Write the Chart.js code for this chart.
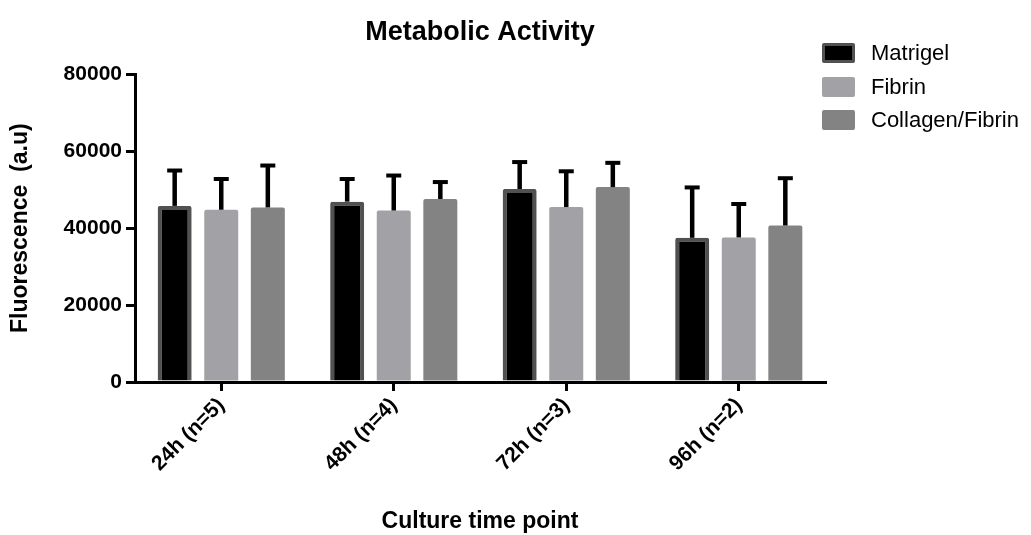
<!DOCTYPE html>
<html>
<head>
<meta charset="utf-8">
<title>Metabolic Activity</title>
<script src="https://cdn.jsdelivr.net/npm/chart.js@4.4.1/dist/chart.umd.min.js"></script>
<style>
  html, body { margin: 0; padding: 0; background: #fff; }
  .wrap { position: relative; width: 1031px; height: 535px; }
  .legend { position: absolute; left: 822px; top: 43px; font: 22px Arial, "Liberation Sans", sans-serif; color: #000; }
  .legend .row { display: flex; align-items: center; height: 20px; margin-bottom: 13.5px; }
  .legend .box { width: 33px; height: 20px; box-sizing: border-box; border-radius: 2px; margin-right: 16px; }
</style>
</head>
<body>
<div class="wrap">
  <canvas id="chartMeta"></canvas>
  <div class="legend" id="legend"></div>
</div>
<script>
// ── Données ─────────────────────────────────────────
const categories = ['24h (n=5)', '48h (n=4)', '72h (n=3)', '96h (n=2)'];
const seriesNames = ['Matrigel', 'Fibrin', 'Collagen/Fibrin'];
const matrigel   = [45800, 46900, 50200, 37500];
const matrigelSd = [9200, 5900, 7000, 13100];
const fibrin     = [44800, 44600, 45500, 37600];
const fibrinSd   = [8000, 9100, 9300, 8700];
const collagen   = [45400, 47600, 50700, 40700];
const collagenSd = [10900, 4400, 6300, 12300];
const yTicks = [0, 20000, 40000, 60000, 80000];

const FONT = 'Arial, "Liberation Sans", sans-serif';
Chart.defaults.font.family = FONT;
Chart.defaults.color = '#000';

// ── Barres d'erreur (vers le haut seulement) ───────
const errorBars = {
  id: 'errorBars',
  afterDatasetsDraw(chart) {
    const ctx = chart.ctx;
    const y = chart.scales.y;
    chart.data.datasets.forEach((ds, i) => {
      const meta = chart.getDatasetMeta(i);
      meta.data.forEach((bar, j) => {
        const top = y.getPixelForValue(ds.data[j] + ds.sd[j]);
        ctx.save();
        ctx.strokeStyle = '#000';
        ctx.lineWidth = 4.5;
        ctx.beginPath();
        ctx.moveTo(bar.x, bar.y);
        ctx.lineTo(bar.x, top);
        ctx.stroke();
        ctx.lineWidth = 4;
        ctx.beginPath();
        ctx.moveTo(bar.x - 7.5, top);
        ctx.lineTo(bar.x + 7.5, top);
        ctx.stroke();
        ctx.restore();
      });
    });
  }
};

const datasets = [
  { label: seriesNames[0], data: matrigel, sd: matrigelSd, backgroundColor: '#000', borderColor: '#515151', borderWidth: 4 },
  { label: seriesNames[1], data: fibrin, sd: fibrinSd, backgroundColor: '#a2a2a6', borderColor: '#a2a2a6', borderWidth: 0 },
  { label: seriesNames[2], data: collagen, sd: collagenSd, backgroundColor: '#838383', borderColor: '#838383', borderWidth: 0 }
];
datasets.forEach(d => {
  d.barPercentage = 0.73;
  d.categoryPercentage = 0.81;
  d.borderRadius = 2;
  d.borderSkipped = 'start';
});

new Chart(document.getElementById('chartMeta'), {
  type: 'bar',
  data: { labels: categories, datasets },
  options: {
    responsive: true,
    maintainAspectRatio: false,
    animation: false,
    layout: { padding: { left: 0, right: 206, top: 0, bottom: 0 } },
    plugins: {
      legend: { display: false },
      tooltip: { enabled: false },
      title: {
        display: true,
        text: 'Metabolic Activity',
        fullSize: false,
        color: '#000',
        font: { size: 27, weight: 'bold' },
        padding: { top: 16, bottom: 26 }
      }
    },
    scales: {
      x: {
        afterFit: s => { s.height = 153; },
        grid: { drawOnChartArea: false, offset: false, color: '#000', lineWidth: 3, tickLength: 9 },
        border: { color: '#000', width: 3 },
        ticks: { color: '#000', font: { size: 21, weight: 'bold' }, minRotation: 45, maxRotation: 45, padding: 2 },
        title: {
          display: true, text: 'Culture time point', color: '#000',
          font: { size: 23, weight: 'bold' }, padding: { top: 0, bottom: 0 }
        }
      },
      y: {
        min: 0, max: 80000,
        afterFit: s => { s.width = 135; },
        afterBuildTicks: s => { s.ticks = yTicks.map(v => ({ value: v })); },
        grid: { drawOnChartArea: false, color: '#000', lineWidth: 3, tickLength: 9 },
        border: { color: '#000', width: 3 },
        ticks: { color: '#000', font: { size: 21, weight: 'bold' }, padding: 4, callback: v => String(v) },
        title: {
          display: true, text: 'Fluorescence  (a.u)', color: '#000',
          font: { size: 23, weight: 'bold' }, padding: { top: 7, bottom: 0 }
        }
      }
    }
  },
  plugins: [errorBars]
});

// ── Légende ─────────────────────────────────────────
const legend = document.getElementById('legend');
datasets.forEach(d => {
  const row = document.createElement('div');
  row.className = 'row';
  const box = document.createElement('span');
  box.className = 'box';
  box.style.background = d.backgroundColor;
  if (d.borderWidth) box.style.border = '3px solid ' + d.borderColor;
  const txt = document.createElement('span');
  txt.textContent = d.label;
  row.appendChild(box);
  row.appendChild(txt);
  legend.appendChild(row);
});
</script>
</body>
</html>
